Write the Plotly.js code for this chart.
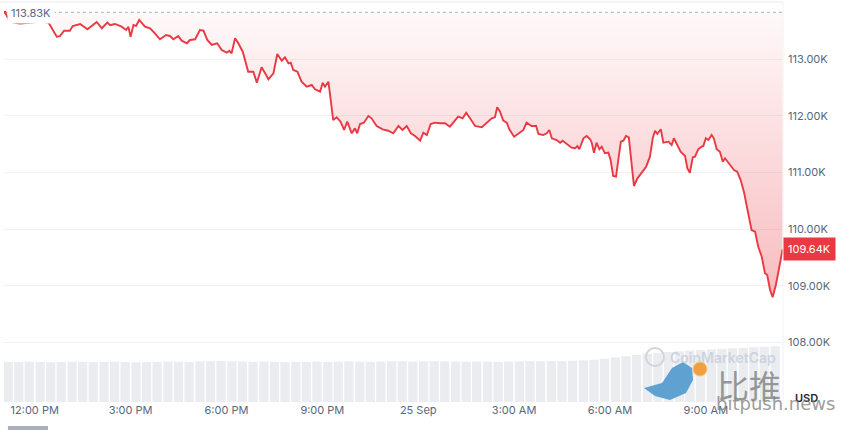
<!DOCTYPE html>
<html>
<head>
<meta charset="utf-8">
<script src="https://cdn.plot.ly/plotly-3.0.1.min.js"></script>
<style>html,body{margin:0;padding:0;background:#fff;}#chart{width:841px;height:430px;}</style>
</head>
<body>
<div id="chart"></div>
<script>
// Hours since 2025-09-24 00:00 (local chart time)
const priceHours = [
11.07,11.23,11.54,11.85,12.17,12.43,12.69,12.79,12.92,13.10,
13.19,13.42,13.65,13.94,14.10,14.27,14.36,14.51,14.72,14.86,
14.93,15.00,15.09,15.17,15.27,15.45,15.61,15.76,15.92,16.11,
16.23,16.34,16.49,16.60,16.76,16.86,17.02,17.17,17.28,17.40,
17.54,17.71,17.85,18.01,18.09,18.16,18.27,18.37,18.51,18.68,
18.84,18.95,19.10,19.24,19.31,19.47,19.59,19.73,19.83,19.94,
20.01,20.09,20.22,20.35,20.51,20.67,20.77,20.93,21.01,21.08,
21.19,21.34,21.45,21.57,21.68,21.78,21.92,22.02,22.09,22.18,
22.30,22.44,22.54,22.70,22.89,23.06,23.22,23.38,23.51,23.64,
23.77,23.90,24.06,24.16,24.27,24.39,24.52,24.68,24.84,24.99,
25.15,25.25,25.39,25.50,25.62,25.78,25.99,26.14,26.30,26.40,
26.47,26.56,26.66,26.77,26.85,27.00,27.13,27.29,27.39,27.55,
27.69,27.76,27.91,28.02,28.10,28.18,28.33,28.44,28.52,28.65,
28.80,28.91,28.98,29.04,29.17,29.27,29.38,29.43,29.50,29.58,
29.67,29.74,29.84,29.95,30.02,30.10,30.19,30.26,30.34,30.42,
30.50,30.59,30.66,30.75,30.86,30.99,31.13,31.25,31.34,31.41,
31.48,31.59,31.67,31.83,31.93,32.00,32.11,32.21,32.35,32.42,
32.50,32.59,32.66,32.76,32.87,32.92,33.00,33.08,33.18,33.25,
33.34,33.44,33.53,33.60,33.76,33.88,33.98,34.09,34.19,34.30,
34.43,34.54,34.64,34.75,34.85,34.92,35.01,35.09,35.19,35.30,
35.40
];
// BTC price, USD
const priceUSD = [
113830,113660,113630,113640,113660,113650,113400,113410,113505,113505,
113588,113624,113530,113659,113548,113647,113601,113624,113576,113518,
113576,113399,113606,113588,113694,113576,113548,113459,113353,113429,
113412,113353,113412,113329,113283,113341,113353,113518,113505,113341,
113253,113283,113164,113117,113152,113106,113371,113283,113134,112781,
112781,112587,112859,112723,112647,112753,113094,112975,113035,112929,
112940,112811,112781,112604,112516,112546,112470,112427,112587,112516,
112604,111927,111975,111897,111751,111897,111692,111781,111692,111857,
111880,111998,111957,111821,111763,111738,111692,111821,111751,111821,
111692,111645,111562,111703,111662,111857,111880,111869,111869,111809,
111915,111986,111957,112056,111957,111821,111798,111869,111957,111975,
112152,112074,111915,111880,111763,111632,111692,111751,111880,111821,
111821,111680,111662,111692,111751,111604,111574,111526,111562,111498,
111438,111427,111468,111410,111604,111645,111586,111526,111350,111526,
111410,111456,111339,111350,111221,110938,110926,111221,111544,111562,
111645,111622,111251,110761,110897,110986,111102,111279,111609,111738,
111680,111763,111526,111544,111486,111604,111468,111367,111291,111074,
110996,111268,111279,111410,111456,111468,111604,111574,111662,111604,
111410,111367,111191,111251,111132,111044,111014,110867,110661,110367,
109984,109954,109689,109512,109219,109189,108923,108795,109012,109335,
109640
];
const openPrice = 113830;
const openLabel = "113.83K";
const lastLabel = "109.64K";

// Volume bars (24h volume, billions USD)
const volHours = [
11.17,11.50,11.83,12.17,12.50,12.83,13.17,13.50,13.83,14.17,
14.50,14.83,15.17,15.50,15.83,16.17,16.50,16.83,17.17,17.50,
17.83,18.17,18.50,18.83,19.17,19.50,19.83,20.17,20.50,20.83,
21.17,21.50,21.83,22.17,22.50,22.83,23.17,23.50,23.83,24.17,
24.50,24.83,25.17,25.50,25.83,26.17,26.50,26.83,27.17,27.50,
27.83,28.17,28.50,28.83,29.17,29.50,29.83,30.17,30.50,30.83,
31.17,31.50,31.83,32.17,32.50,32.83,33.17,33.50,33.83,34.17,
34.50,34.83,35.17
];
const volume = [
40.2,40.0,40.3,40.1,39.8,40.0,40.4,40.2,39.9,40.1,
40.3,40.0,39.7,39.9,40.2,40.5,40.3,40.1,40.6,40.8,
41.0,40.7,40.5,40.2,40.4,40.1,39.9,40.2,40.0,40.3,
40.1,40.4,40.6,40.3,40.2,40.5,40.8,40.6,40.4,40.7,
40.9,40.6,40.4,40.2,40.5,40.3,40.1,40.4,40.6,40.9,
40.8,41.0,40.9,41.2,41.6,42.2,43.2,44.5,45.8,47.0,
48.2,49.2,50.0,50.8,51.5,52.0,52.6,53.1,53.6,54.1,
54.6,55.1,55.6
];

const tickHours = [12,15,18,21,24,27,30,33];
const tickText = ["12:00 PM","3:00 PM","6:00 PM","9:00 PM","25 Sep","3:00 AM","6:00 AM","9:00 AM"];
const priceTicks = [108000,109000,110000,111000,112000,113000];
const priceTickText = ["108.00K","109.00K","110.00K","111.00K","112.00K","113.00K"];

function toDate(h){
  const d = new Date(Date.UTC(2025,8,24) + Math.round(h*3600000));
  return d.toISOString().replace('T',' ').slice(0,19);
}
const px = priceHours.map(toDate);
const vx = volHours.map(toDate);
const RED = '#ea3943';
const GREY = '#58667e';
const FONT = 'Inter, "Noto Sans", sans-serif';
const minPrice = Math.min(...priceUSD);

const traces = [
  {type:'bar', x:vx, y:volume, yaxis:'y', marker:{color:'#eaecf0', line:{width:0}}, hoverinfo:'skip'},
  {type:'scatter', mode:'lines', x:[px[0], px[px.length-1]], y:[openPrice, openPrice], yaxis:'y2',
   line:{color:'#a6b0c3', width:1, dash:'dot'}, hoverinfo:'skip'},
  {type:'scatter', mode:'lines', x:px, y:priceUSD, yaxis:'y2', fill:'tonexty',
   fillgradient:{type:'vertical', start:minPrice, stop:openPrice,
     colorscale:[[0,'rgba(234,57,67,0.34)'],[1,'rgba(234,57,67,0.03)']]},
   line:{color:RED, width:1.9}, hoverinfo:'skip'},
  {type:'scatter', mode:'markers', x:[px[0]], y:[openPrice], yaxis:'y2',
   marker:{color:RED, size:3}, hoverinfo:'skip'}
];

const layout = {
  width:841, height:430,
  margin:{l:4, r:58, t:2, b:28},
  paper_bgcolor:'#ffffff', plot_bgcolor:'#ffffff',
  showlegend:false, bargap:0.12,
  font:{family:FONT, size:11, color:GREY},
  xaxis:{type:'date', range:[toDate(11.039), toDate(35.414)],
    tickvals:tickHours.map(toDate), ticktext:tickText,
    showgrid:false, zeroline:false, showline:false, ticks:'',
    tickfont:{family:FONT, size:11, color:GREY}},
  yaxis:{range:[0,400], visible:false, fixedrange:true},
  yaxis2:{overlaying:'y', side:'right', range:[106945,114012],
    tickvals:priceTicks, ticktext:priceTickText,
    showgrid:true, gridcolor:'#eff1f4', gridwidth:1, zeroline:false, showline:false, ticks:'',
    ticklabelstandoff:4, tickfont:{family:FONT, size:11, color:GREY}},
  shapes:[
    {type:'line', xref:'paper', yref:'paper', x0:-0.01, x1:1, y0:1.0, y1:1.0, line:{color:'#e6e9ee', width:1}},
    {type:'line', xref:'paper', yref:'paper', x0:1, x1:1, y0:0, y1:1, line:{color:'#f0f2f5', width:1}},
    {type:'rect', xref:'paper', yref:'paper', x0:0.005, x1:0.0565, y0:-0.11, y1:-0.06, fillcolor:'#a9b1bf', line:{width:0}},
    {type:'circle', xref:'paper', yref:'paper', x0:0.8241, x1:0.8472, y0:0.09, y1:0.135, line:{color:'#cfd5df', width:2}},
    {type:'path', xref:'paper', yref:'paper',
     path:'M 0.8216 0.035 L 0.8447 0.0475 L 0.8575 0.085 L 0.8716 0.1 L 0.8832 0.085 L 0.8845 0.055 L 0.8755 0.0225 L 0.8549 0.005 L 0.8357 0.015 Z',
     fillcolor:'#5fa2d2', line:{width:0}},
    {type:'circle', xref:'paper', yref:'paper', x0:0.8845, x1:0.9024, y0:0.065, y1:0.1, fillcolor:'#f0a040', line:{color:'#f7c27a', width:1}}
  ],
  annotations:[
    {xref:'x', yref:'y2', x:px[0], y:openPrice, xanchor:'left', yanchor:'middle', xshift:2, yshift:-1,
     text:openLabel, showarrow:false, bgcolor:'#ffffff', borderpad:3, font:{family:FONT, size:11, color:GREY}},
    {xref:'paper', yref:'y2', x:1, y:priceUSD[priceUSD.length-1], xanchor:'left', yanchor:'middle',
     text:lastLabel, showarrow:false, bgcolor:RED, borderpad:4, font:{family:FONT, size:11, color:'#ffffff'}},
    {xref:'paper', yref:'paper', x:1, y:0.01, xanchor:'center', yanchor:'middle', xshift:23,
     text:'USD', showarrow:false, font:{family:FONT, size:11, color:'#222531', weight:600}},
    {xref:'paper', yref:'paper', x:0.852, y:0.1125, xanchor:'left', yanchor:'middle',
     text:'CoinMarketCap', showarrow:false, font:{family:FONT, size:14, color:'rgba(195,203,216,0.75)', weight:600}},
    {xref:'paper', yref:'paper', x:0.913, y:0.045, xanchor:'left', yanchor:'middle',
     text:'比推', showarrow:false, font:{family:'"Noto Sans CJK SC", sans-serif', size:32, color:'rgba(120,120,120,0.75)'}},
    {xref:'paper', yref:'paper', x:0.912, y:-0.005, xanchor:'left', yanchor:'middle',
     text:'bitpush.news', showarrow:false, font:{family:'"DejaVu Sans", sans-serif', size:18, color:'rgba(130,130,130,0.8)'}}
  ]
};

Plotly.newPlot('chart', traces, layout, {staticPlot:true, displayModeBar:false});
</script>
</body>
</html>
